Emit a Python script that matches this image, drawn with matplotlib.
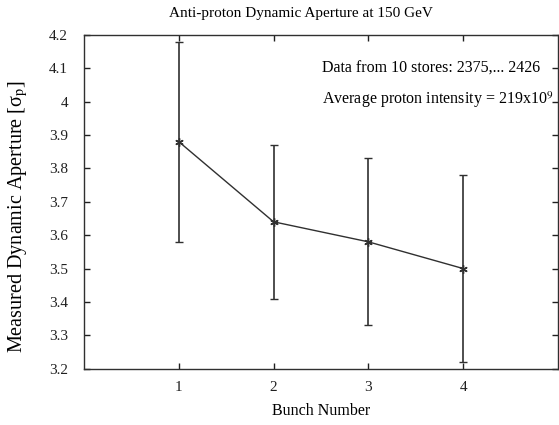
import matplotlib
matplotlib.use('Agg')
import matplotlib.pyplot as plt

# Dynamic aperture per bunch, with the min/max spread over the stores
bunch = [1, 2, 3, 4]
aperture = [3.88, 3.64, 3.58, 3.50]
aperture_low = [3.58, 3.41, 3.33, 3.22]
aperture_high = [4.18, 3.87, 3.83, 3.78]

plt.rcParams['font.family'] = ['Liberation Serif', 'DejaVu Serif']
plt.rcParams['mathtext.fontset'] = 'stix'

err_lo = [a - lo for a, lo in zip(aperture, aperture_low)]
err_hi = [hi - a for a, hi in zip(aperture, aperture_high)]

fig = plt.figure(figsize=(5.59, 4.25), dpi=100)
ax = fig.add_axes([0.1503, 0.1325, 0.8477, 0.7855])

ax.errorbar(bunch, aperture, yerr=[err_lo, err_hi], color='#303030',
            linewidth=1.0, elinewidth=1.2, capsize=3, capthick=1.0,
            marker=(6, 2, 0), markersize=6, markeredgewidth=1.0)

ax.set_xlim(0, 5)
ax.set_ylim(3.2, 4.2)
ax.set_xticks(bunch)
ax.set_yticks([3.2, 3.3, 3.4, 3.5, 3.6, 3.7, 3.8, 3.9, 4.0, 4.1, 4.2])
ax.set_yticklabels(['3.2', '3.3', '3.4', '3.5', '3.6', '3.7', '3.8', '3.9', '4', '4.1', '4.2'])
ax.tick_params(direction='in', length=4, width=1, top=True, right=True,
               labelsize=11, colors='#202020')
ax.tick_params(axis='y', pad=11.5)
ax.tick_params(axis='x', pad=9)
for s in ax.spines.values():
    s.set_linewidth(1.0)
    s.set_color('#303030')

fig.text(301 / 559, 1 - 14 / 425, 'Anti-proton Dynamic Aperture at 150 GeV',
         ha='center', va='center', fontsize=11)
ax.set_xlabel('Bunch Number', fontsize=11.5, labelpad=6)
fig.text(18 / 559, 1 - 217 / 425, r'Measured Dynamic Aperture [σ$_\mathrm{p}$]',
         rotation=90, ha='center', va='center', fontsize=14.5)

ax.text(0.502, 0.90, 'Data from 10 stores: 2375,... 2426', transform=ax.transAxes,
        ha='left', va='center', fontsize=11.5)
ax.text(0.502, 0.805, r'Average proton intensity = 219x10$^{9}$', transform=ax.transAxes,
        ha='left', va='center', fontsize=11.5)

fig.savefig('out.png', dpi=100)
